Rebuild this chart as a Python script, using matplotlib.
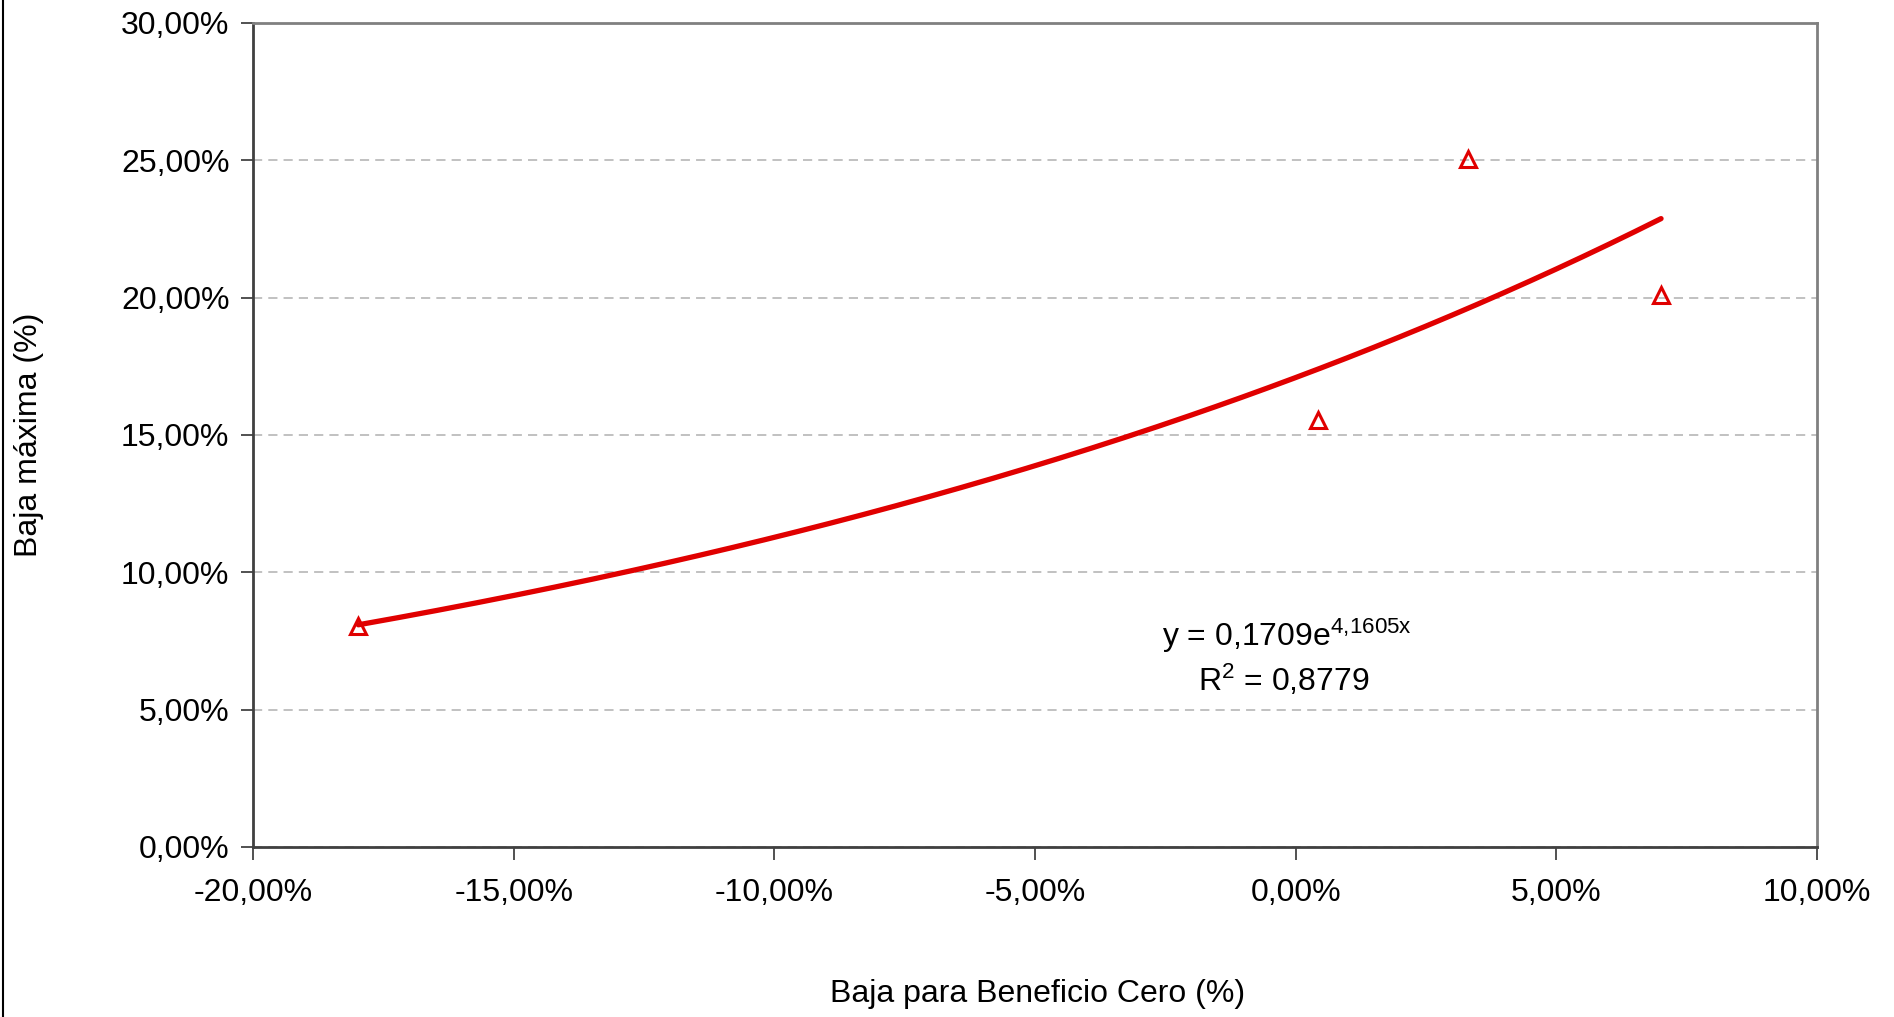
import numpy as np
import matplotlib
matplotlib.use("Agg")
import matplotlib.pyplot as plt
from matplotlib.ticker import FuncFormatter, MultipleLocator
from matplotlib.lines import Line2D

plt.rcParams['font.family'] = ['Liberation Sans', 'DejaVu Sans']
plt.rcParams['mathtext.fontset'] = 'custom'
plt.rcParams['mathtext.rm'] = 'Liberation Sans'
plt.rcParams['mathtext.it'] = 'Liberation Sans'

# data (fractions)
baja_beneficio_cero = [-0.1798, 0.0043, 0.0330, 0.0701]
baja_maxima = [0.0804, 0.1555, 0.2503, 0.2011]

# exponential trend line as printed on the chart
trend_a = 0.1709
trend_b = 4.1605
trend_r2 = 0.8779

x_label = "Baja para Beneficio Cero (%)"
y_label = "Baja máxima (%)"

red = "#e00000"


def pct(v, pos):
    return f"{v * 100:.2f}%".replace(".", ",")


fig = plt.figure(figsize=(18.94, 10.17), dpi=100)
ax = fig.add_axes([0.1336, 0.1672, 0.9593 - 0.1336, 0.9774 - 0.1672])

xs = np.linspace(min(baja_beneficio_cero), max(baja_beneficio_cero), 200)
ax.plot(xs, trend_a * np.exp(trend_b * xs), color=red, lw=3.8, solid_capstyle='round', zorder=3)
ax.plot(baja_beneficio_cero, baja_maxima, linestyle='none', marker='^', markersize=11,
        markerfacecolor='none', markeredgecolor=red, markeredgewidth=2.2, zorder=4)

ax.set_xlim(-0.20, 0.10)
ax.set_ylim(0, 0.30)
ax.xaxis.set_major_locator(MultipleLocator(0.05))
ax.yaxis.set_major_locator(MultipleLocator(0.05))
ax.xaxis.set_major_formatter(FuncFormatter(pct))
ax.yaxis.set_major_formatter(FuncFormatter(pct))
ax.tick_params(labelsize=23, length=9, width=1.2, color='#333333', pad=8)
ax.tick_params(axis='x', pad=13)

ax.grid(axis='y', color='#b0b0b0', linestyle=(0, (6, 4)), linewidth=1.1)
ax.set_axisbelow(True)
for side in ['left', 'bottom']:
    ax.spines[side].set_color('#404040')
    ax.spines[side].set_linewidth(2)
for side in ['top', 'right']:
    ax.spines[side].set_color('#808080')
    ax.spines[side].set_linewidth(2)

fig.text(1038 / 1894, 1 - 994 / 1017, x_label, ha='center', va='center', fontsize=23)
fig.text(29 / 1894, 1 - 435 / 1017, y_label, ha='center', va='center', fontsize=23, rotation=90)

b_txt = f"{trend_b:.4f}".replace(".", "{,}")
eq = f"y = {trend_a:.4f}".replace(".", ",") + "e$^{" + b_txt + "x}$"
r2 = f"R$^{{2}}$ = {trend_r2:.4f}".replace(".", ",")
fig.text(1162 / 1894, 1 - 636 / 1017, eq, ha='left', va='center', fontsize=23)
fig.text(1284 / 1894, 1 - 680 / 1017, r2, ha='center', va='center', fontsize=23)

# left edge of the chart area border
fig.add_artist(Line2D([2.5 / 1894, 2.5 / 1894], [0, 1], color='black', lw=1.5))

fig.savefig("out.png", dpi=100)
